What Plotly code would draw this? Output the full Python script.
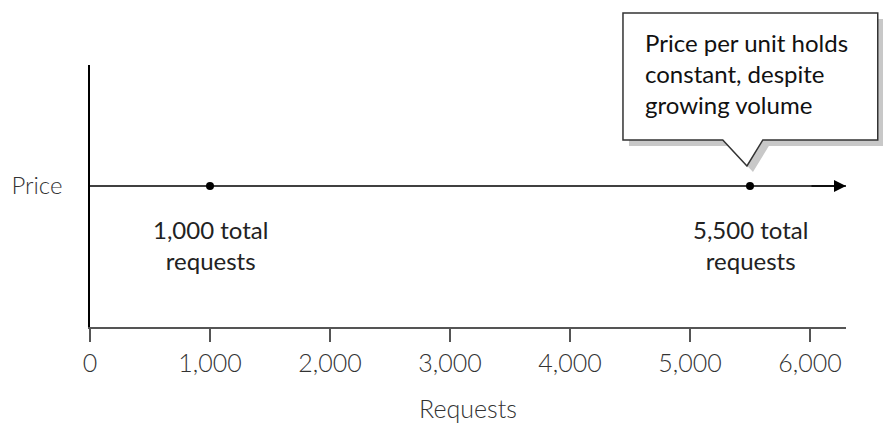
import plotly.graph_objects as go

# Data
requests_points = [1000, 5500]
price_level = 1.0
point_labels = ["1,000 total<br>requests", "5,500 total<br>requests"]
x_tick_vals = [0, 1000, 2000, 3000, 4000, 5000, 6000]
x_tick_text = ["0", "1,000", "2,000", "3,000", "4,000", "5,000", "6,000"]
x_max = 6300
callout_text = "Price per unit holds<br>constant, despite<br>growing volume"

FONT = "Lato"

fig = go.Figure()

# baseline price line (arrow drawn via annotation)
fig.add_trace(go.Scatter(
    x=[0, x_max], y=[price_level, price_level], mode="lines",
    line=dict(color="black", width=1.5), hoverinfo="skip", showlegend=False))
fig.add_annotation(x=x_max, y=price_level, ax=x_max - 300, ay=price_level,
                   xref="x", yref="y", axref="x", ayref="y", text="",
                   showarrow=True, arrowhead=2, arrowsize=1.6, arrowwidth=1.5,
                   arrowcolor="black")

fig.add_trace(go.Scatter(
    x=requests_points, y=[price_level] * len(requests_points), mode="markers",
    marker=dict(color="black", size=8), hoverinfo="skip", showlegend=False))

for xv, lab in zip(requests_points, point_labels):
    fig.add_annotation(x=xv, y=price_level, xref="x", yref="y", text=lab,
                       showarrow=False, yanchor="top", yshift=-27,
                       font=dict(family=FONT, size=24, color="#222"))

# callout box (paper coords)
bx0, bx1, by0, by1 = 0.705, 1.042, 0.714, 1.198
px0, px1, tipx, tipy = 0.837, 0.890, 0.869, 0.6145
dx, dy = 6 / 756, 6 / 262

def callout_path(ox=0.0, oy=0.0):
    pts = [(bx0, by1), (bx1, by1), (bx1, by0), (px1, by0), (tipx, tipy),
           (px0, by0), (bx0, by0)]
    return "M " + " L ".join(f"{x + ox},{y + oy}" for x, y in pts) + " Z"

fig.add_shape(type="path", path=callout_path(dx, -dy), xref="paper", yref="paper",
              fillcolor="#c8c8c8", line=dict(width=0), layer="above")
fig.add_shape(type="path", path=callout_path(), xref="paper", yref="paper",
              fillcolor="white", line=dict(color="#333", width=1.5), layer="above")
fig.add_annotation(x=bx0 + 0.026, y=(by0 + by1) / 2 + 0.01, xref="paper", yref="paper",
                   text=callout_text, showarrow=False, xanchor="left",
                   yanchor="middle", align="left",
                   font=dict(family=FONT, size=24, color="#111"))

fig.update_layout(
    width=883, height=425,
    margin=dict(l=90, r=37, t=65, b=98),
    paper_bgcolor="white", plot_bgcolor="white",
    showlegend=False,
    xaxis=dict(range=[0, x_max], tickvals=x_tick_vals, ticktext=x_tick_text,
               automargin=False,
               showgrid=False, zeroline=False, showline=True, linecolor="#555",
               linewidth=2, ticks="outside", ticklen=13, tickwidth=2,
               tickcolor="#555",
               tickfont=dict(family=FONT, size=25, color="#333", weight=300),
               title=dict(text="Requests", standoff=24,
                          font=dict(family=FONT, size=25, color="#333", weight=300))),
    yaxis=dict(range=[0, 262 / 141], tickvals=[price_level], ticktext=["Price"],
               automargin=False,
               showgrid=False, zeroline=False, showline=True, linecolor="black",
               linewidth=1.5, ticks="", ticklabelstandoff=21,
               tickfont=dict(family=FONT, size=24, color="#333", weight=300)),
)

fig.write_html("out.html")
